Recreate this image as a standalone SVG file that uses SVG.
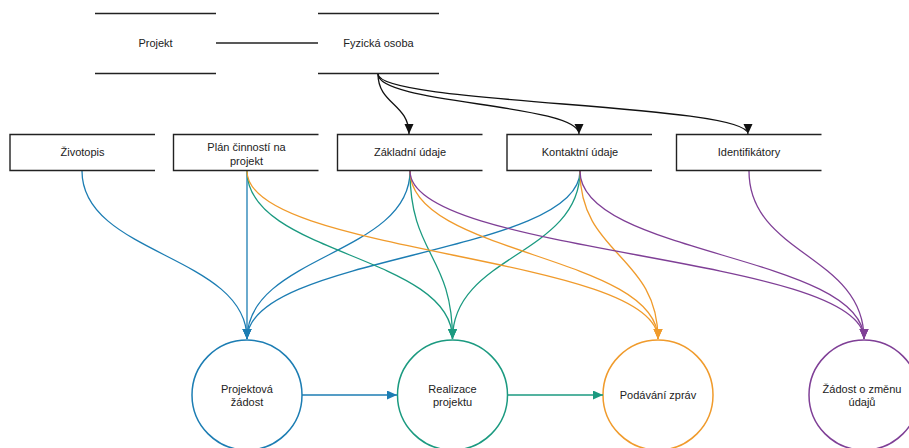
<svg xmlns="http://www.w3.org/2000/svg" width="909" height="448" viewBox="0 0 909 448">
  <style>
    .bg { fill: #ffffff; }
    .txt { font-family: "Liberation Sans", Arial, sans-serif; font-size: 11px; fill: #222222; text-anchor: middle; }
    .edge { stroke: #222222; stroke-width: 1.4; fill: none; }
    .box { stroke: #222222; stroke-width: 1.4; fill: none; }
    .boxfill { fill: #ffffff; }
    .link { fill: none; stroke-width: 1.3; }
    .blue { stroke: #1c7db3; }
    .green { stroke: #1b9a80; }
    .orange { stroke: #f09b2c; }
    .purple { stroke: #7f3f96; }
    .black { stroke: #111111; }
    .circ { fill: #ffffff; stroke-width: 1.5; }
  </style>
  <defs>
    <marker id="ah-black" markerUnits="userSpaceOnUse" markerWidth="10" markerHeight="10" refX="10" refY="4.5" orient="auto"><path d="M0,0 L10,4.5 L0,9 Z" fill="#111111"/></marker>
    <marker id="ah-blue" markerUnits="userSpaceOnUse" markerWidth="10" markerHeight="10" refX="10" refY="4.5" orient="auto"><path d="M0,0 L10,4.5 L0,9 Z" fill="#1c7db3"/></marker>
    <marker id="ah-green" markerUnits="userSpaceOnUse" markerWidth="10" markerHeight="10" refX="10" refY="4.5" orient="auto"><path d="M0,0 L10,4.5 L0,9 Z" fill="#1b9a80"/></marker>
    <marker id="ah-orange" markerUnits="userSpaceOnUse" markerWidth="10" markerHeight="10" refX="10" refY="4.5" orient="auto"><path d="M0,0 L10,4.5 L0,9 Z" fill="#f09b2c"/></marker>
    <marker id="ah-purple" markerUnits="userSpaceOnUse" markerWidth="10" markerHeight="10" refX="10" refY="4.5" orient="auto"><path d="M0,0 L10,4.5 L0,9 Z" fill="#7f3f96"/></marker>
  </defs>

  <rect class="bg" x="0" y="0" width="909" height="448"/>

  <!-- process circles -->
  <g id="projektova-zadost">
    <circle class="circ blue" cx="247" cy="395" r="55"/>
    <text class="txt" x="247" y="393">Projektová</text>
    <text class="txt" x="247" y="406">žádost</text>
  </g>
  <g id="realizace-projektu">
    <circle class="circ green" cx="452.5" cy="395" r="55"/>
    <text class="txt" x="452.5" y="393">Realizace</text>
    <text class="txt" x="452.5" y="406">projektu</text>
  </g>
  <g id="podavani-zprav">
    <circle class="circ orange" cx="658" cy="395" r="55"/>
    <text class="txt" x="658" y="399">Podávání zpráv</text>
  </g>
  <g id="zadost-o-zmenu">
    <circle class="circ purple" cx="864" cy="395" r="55"/>
    <text class="txt" x="862" y="393">Žádost o změnu</text>
    <text class="txt" x="862" y="406">údajů</text>
  </g>

  <!-- connectors -->
  <g id="connectors">
    <line class="edge" x1="216" y1="43" x2="318" y2="43"/>

    <path class="link black" d="M378,74 C378,104 409,104 409,134" marker-end="url(#ah-black)"/>
    <path class="link black" d="M378,74 C378,104 579,104 579,134" marker-end="url(#ah-black)"/>
    <path class="link black" d="M378,74 C378,104 748,104 748,134" marker-end="url(#ah-black)"/>

    <!-- to Projektová žádost -->
    <path class="link blue" d="M82,171 C82,255 247,255 247,339" marker-end="url(#ah-blue)"/>
    <path class="link blue" d="M247,171 L247,339" marker-end="url(#ah-blue)"/>
    <path class="link blue" d="M410,171 C410,255 247,255 247,339" marker-end="url(#ah-blue)"/>
    <path class="link blue" d="M580,171 C580,255 247,255 247,339" marker-end="url(#ah-blue)"/>

    <!-- to Realizace projektu -->
    <path class="link green" d="M247,171 C247,255 452.5,255 452.5,339" marker-end="url(#ah-green)"/>
    <path class="link green" d="M410,171 C410,255 452.5,255 452.5,339" marker-end="url(#ah-green)"/>
    <path class="link green" d="M580,171 C580,255 452.5,255 452.5,339" marker-end="url(#ah-green)"/>

    <!-- to Podávání zpráv -->
    <path class="link orange" d="M247,171 C247,255 658,255 658,339" marker-end="url(#ah-orange)"/>
    <path class="link orange" d="M410,171 C410,255 658,255 658,339" marker-end="url(#ah-orange)"/>
    <path class="link orange" d="M580,171 C580,255 658,255 658,339" marker-end="url(#ah-orange)"/>

    <!-- to Žádost o změnu údajů -->
    <path class="link purple" d="M410,171 C410,255 864,255 864,339" marker-end="url(#ah-purple)"/>
    <path class="link purple" d="M580,171 C580,255 864,255 864,339" marker-end="url(#ah-purple)"/>
    <path class="link purple" d="M749,171 C749,255 864,255 864,339" marker-end="url(#ah-purple)"/>

    <!-- between processes -->
    <line class="link blue" x1="302" y1="395" x2="397" y2="395" marker-end="url(#ah-blue)"/>
    <line class="link green" x1="508" y1="395" x2="603" y2="395" marker-end="url(#ah-green)"/>
  </g>

  <!-- entities -->
  <g id="projekt">
    <line class="edge" x1="95" y1="13.5" x2="216" y2="13.5"/>
    <line class="edge" x1="95" y1="73.5" x2="216" y2="73.5"/>
    <text class="txt" x="155.5" y="47">Projekt</text>
  </g>
  <g id="fyzicka-osoba">
    <line class="edge" x1="318" y1="13.5" x2="439" y2="13.5"/>
    <line class="edge" x1="318" y1="73.5" x2="439" y2="73.5"/>
    <text class="txt" x="378.5" y="47">Fyzická osoba</text>
  </g>

  <!-- attribute boxes -->
  <g id="zivotopis">
    <rect class="boxfill" x="10" y="134.5" width="145" height="36"/>
    <polyline class="box" points="155,134.5 10,134.5 10,170.5 155,170.5"/>
    <text class="txt" x="82.5" y="156">Životopis</text>
  </g>
  <g id="plan-cinnosti">
    <rect class="boxfill" x="173.5" y="134.5" width="145" height="36"/>
    <polyline class="box" points="318.5,134.5 173.5,134.5 173.5,170.5 318.5,170.5"/>
    <text class="txt" x="246.5" y="151">Plán činností na</text>
    <text class="txt" x="246.5" y="164.5">projekt</text>
  </g>
  <g id="zakladni-udaje">
    <rect class="boxfill" x="337.5" y="134.5" width="145" height="36"/>
    <polyline class="box" points="482.5,134.5 337.5,134.5 337.5,170.5 482.5,170.5"/>
    <text class="txt" x="410" y="156">Základní údaje</text>
  </g>
  <g id="kontaktni-udaje">
    <rect class="boxfill" x="507" y="134.5" width="145" height="36"/>
    <polyline class="box" points="652,134.5 507,134.5 507,170.5 652,170.5"/>
    <text class="txt" x="580" y="156">Kontaktní údaje</text>
  </g>
  <g id="identifikatory">
    <rect class="boxfill" x="676.5" y="134.5" width="145" height="36"/>
    <polyline class="box" points="821.5,134.5 676.5,134.5 676.5,170.5 821.5,170.5"/>
    <text class="txt" x="749" y="156">Identifikátory</text>
  </g>
</svg>
